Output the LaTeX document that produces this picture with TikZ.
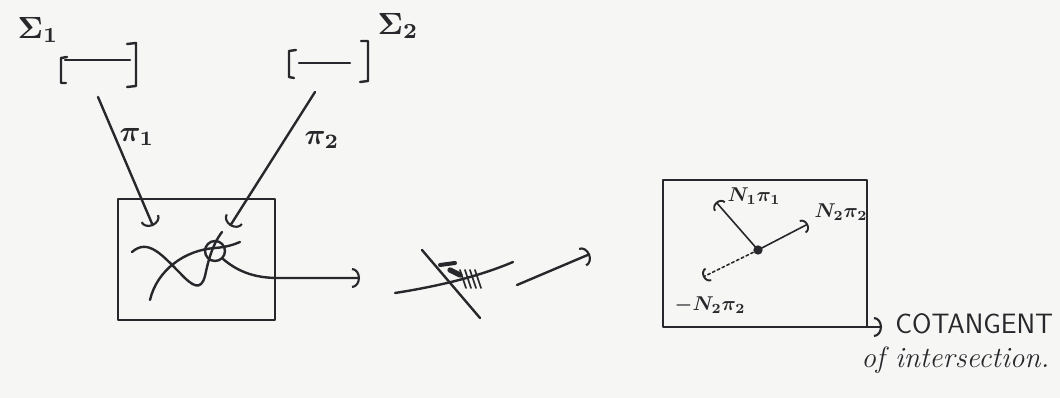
\documentclass[tikz,border=0pt]{standalone}
\usetikzlibrary{arrows.meta}
\definecolor{paper}{RGB}{246,246,244}
\definecolor{inkc}{RGB}{40,40,44}
\begin{document}
\begin{tikzpicture}[x=0.75pt,y=-0.75pt,
  ink/.style={draw=inkc, line width=1.8pt, line cap=round, line join=round},
  thinink/.style={draw=inkc, line width=1.2pt, line cap=round, line join=round},
  barb/.style={-{Arc Barb[length=6pt,width=15pt,line width=1.6pt]}},
  sbarb/.style={-{Arc Barb[length=4.5pt,width=11pt,line width=1.4pt]}},
  lbl/.style={text=inkc, inner sep=0pt, font=\boldmath},
  boxnode/.style={ink, inner sep=0pt, outer sep=0pt}
]
\fill[paper] (0,0) rectangle (1060,398);
\useasboundingbox (0,0) rectangle (1060,398);

% ---- Sigma 1 and its interval
\node[lbl, scale=2.3] (sig1) at (38,30) {$\Sigma_1$};
\coordinate (b1l) at (65,60);
\coordinate (b1r) at (130,60);
\draw[ink] (67,57) -- (61,58) -- (61,83) -- (66,83);
\draw[ink] (b1l) -- (b1r);
\draw[ink] (127,44) -- (136,43) -- (136,86) -- (127,87);

% ---- Sigma 2 and its interval
\node[lbl, scale=2.3] (sig2) at (398,26) {$\Sigma_2$};
\coordinate (b2l) at (299,63);
\coordinate (b2r) at (350,63);
\draw[ink] (296,50) -- (289,51) -- (289,77) -- (294,78);
\draw[ink] (b2l) -- (b2r);
\draw[ink] (361,41) -- (368,41) -- (368,81) -- (360,82);

% ---- box 1
\node[boxnode, minimum width=117.75pt, minimum height=90.75pt] (box1) at (196.5,259.5) {};

% ---- pi arrows
\coordinate (p1s) at (98,97);
\coordinate (p1e) at (153,226);
\coordinate (p2s) at (315,92);
\coordinate (p2e) at (230,226);
\draw[ink,barb] (p1s) -- (p1e);
\draw[ink,barb] (p2s) -- (p2e);
\node[lbl, scale=2.2] (pi1) at (137,137) {$\pi_1$};
\node[lbl, scale=2.2] (pi2) at (322,140) {$\pi_2$};

% ---- curves in box 1
\node[ink, circle, minimum size=15pt, inner sep=0pt] (c1) at (215,251) {};
\draw[ink] (132,252) .. controls (148,238) and (162,255) .. (180,273)
           .. controls (193,287) and (201,291) .. (205,276)
           .. controls (208,262) and (212,245) .. (222,232);
\draw[ink] (150,300) .. controls (157,270) and (185,250) .. (215,248)
           .. controls (228,247) and (235,244) .. (240,242);
\coordinate (e1) at (360,278);
\draw[ink,barb] (c1.south east) .. controls (236,270) and (252,278) .. (278,278) -- (e1);

% ---- middle sketch
\coordinate (m1) at (395,293);
\coordinate (m2) at (513,262);
\coordinate (m3) at (422,250);
\coordinate (m4) at (480,318);
\draw[ink] (m1) .. controls (440,286) and (480,276) .. (m2);
\draw[ink] (m3) -- (m4);
\draw[ink, line width=3pt] (440,265) -- (455,263);
\draw[ink, line width=4pt] (450,270) -- (460,275);
\foreach \dx in {0,5,10,15}{
  \draw[thinink] (460+\dx,270) -- (466+\dx,288);
}
\coordinate (a1) at (517,285);
\coordinate (a2) at (590,254);
\draw[ink,barb] (a1) -- (a2);

% ---- box 2
\node[boxnode, minimum width=153pt, minimum height=110.25pt] (box2) at (765,253.5) {};
\fill[inkc] (758,250) circle (3.5pt);
\coordinate (o) at (758,250);
\coordinate (n1) at (716,202);
\coordinate (n2) at (808,224);
\coordinate (n3) at (703,277);
\draw[thinink,sbarb] (o) -- (n1);
\draw[thinink,sbarb] (o) -- (n2);
\draw[thinink,sbarb,dash pattern=on 2pt off 2pt] (o) -- (n3);
\node[lbl, scale=1.5] (ln1) at (754,196) {$N_1\pi_1$};
\node[lbl, scale=1.5] (ln2) at (841,212) {$N_2\pi_2$};
\node[lbl, scale=1.5] (ln3) at (710,305) {$-N_2\pi_2$};

% ---- cotangent
\coordinate (cot) at (882,327);
\draw[ink,barb] (box2.south east) -- (cot);
\node[lbl, anchor=west, font=\fontsize{21}{23}\selectfont\sffamily] (cotl) at (895,324) {COTANGENT};
\node[lbl, anchor=west, font=\fontsize{22}{24}\selectfont\itshape] (ofl) at (861,360) {of intersection.};
\end{tikzpicture}
\end{document}
